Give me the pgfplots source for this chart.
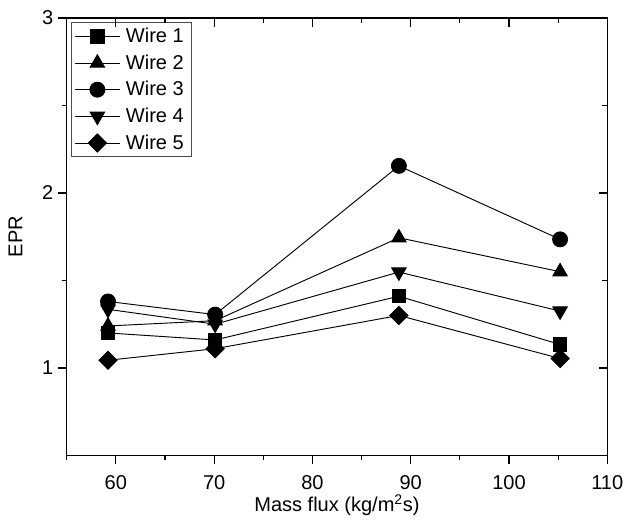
\documentclass[border=0pt]{standalone}
\usepackage{fontspec}
\setmainfont{Liberation Sans}
\usepackage{pgfplots}
\pgfplotsset{compat=1.18}

\pgfplotstableread{
x y
59.2 1.20
70.1 1.16
88.8 1.41
105.2 1.134
}\wireone
\pgfplotstableread{
x y
59.2 1.24
70.1 1.27
88.8 1.744
105.2 1.55
}\wiretwo
\pgfplotstableread{
x y
59.2 1.38
70.1 1.305
88.8 2.155
105.2 1.735
}\wirethree
\pgfplotstableread{
x y
59.2 1.335
70.1 1.25
88.8 1.548
105.2 1.325
}\wirefour
\pgfplotstableread{
x y
59.2 1.044
70.1 1.11
88.8 1.30
105.2 1.054
}\wirefive

\begin{document}
\begin{tikzpicture}
\pgfplotsset{
  common/.style={
    scale only axis,
    width=405pt, height=327.75pt,
    xmin=55, xmax=110, ymin=0.5, ymax=3,
    xtick={60,70,...,110}, minor xtick={55,65,...,105},
    ytick={1,2,3}, minor ytick={1.5,2.5},
    major tick length=6.5pt, minor tick length=3.75pt,
    axis line style={line width=1pt},
    every tick/.style={black, line width=0.9pt},
    every minor tick/.style={black, line width=0.9pt},
  }
}
\begin{axis}[common, name=ax,
  tick align=outside, xtick pos=left, ytick pos=left,
  ticklabel style={font=\fontsize{15}{18}\selectfont},
  xticklabel style={yshift=-5pt},
  /pgf/number format/assume math mode=true,
  xlabel={Mass flux (kg/m\textsuperscript{2}s)},
  ylabel={EPR},
  label style={font=\fontsize{15}{18}\selectfont},
  xlabel style={yshift=3pt},
  ylabel style={yshift=8pt},
  legend cell align=left,
  legend style={at={(0.008,0.99)}, anchor=north west, draw=black!70, line width=0.6pt,
    font=\fontsize{15}{18}\selectfont, row sep=3.6pt, inner sep=2pt,
    nodes={inner xsep=4pt}},
  legend image code/.code={\draw[mark repeat=2,mark phase=2] plot coordinates {(0cm,0cm)(0.6cm,0cm)(1.2cm,0cm)};},
  every axis plot/.append style={black, line width=0.7pt},
]
\addplot[mark=square*, mark size=5pt] table {\wireone};
\addlegendentry{Wire 1}
\addplot[mark=triangle*, mark size=6.2pt, mark options={solid}] table {\wiretwo};
\addlegendentry{Wire 2}
\addplot[mark=*, mark size=5.6pt] table {\wirethree};
\addlegendentry{Wire 3}
\addplot[mark=triangle*, mark size=6.2pt, mark options={rotate=180}] table {\wirefour};
\addlegendentry{Wire 4}
\addplot[mark=square*, mark size=4.8pt, mark options={rotate=45}] table {\wirefive};
\addlegendentry{Wire 5}
\end{axis}
\begin{axis}[common, tick align=inside, xtick pos=right, ytick pos=right,
  xticklabels={}, yticklabels={}]
\end{axis}
\pgfresetboundingbox
\path[use as bounding box] ([xshift=-50pt,yshift=-49.7pt]ax.south west) rectangle ([xshift=13.3pt,yshift=13.5pt]ax.north east);
\end{tikzpicture}
\end{document}
